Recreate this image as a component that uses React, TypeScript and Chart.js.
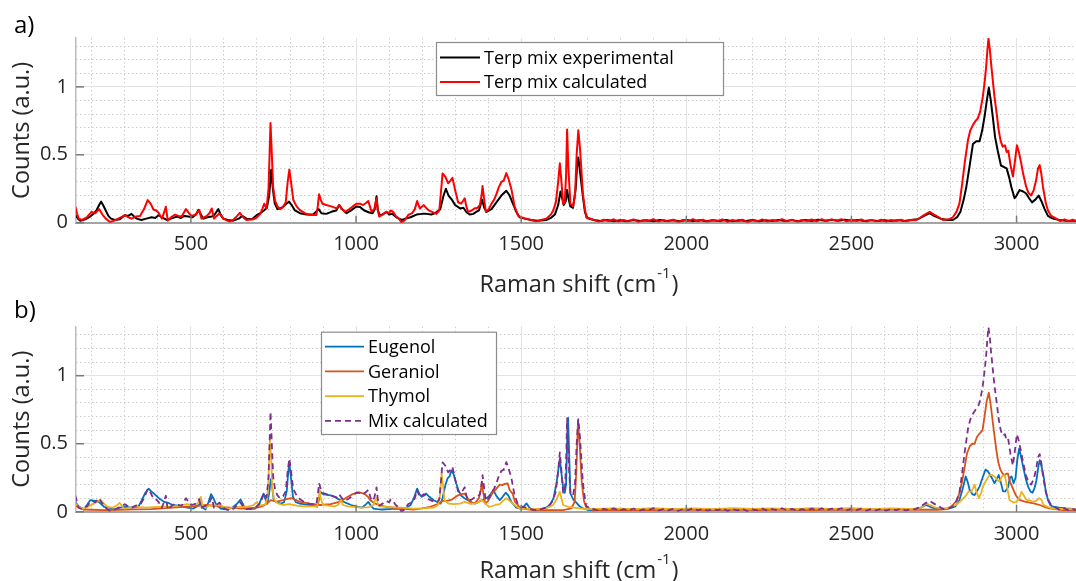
import React, { useEffect, useRef } from "react";
import { Chart, registerables } from "chart.js";

Chart.register(...registerables);

const FONT = '"Open Sans", "Liberation Sans", sans-serif';

// ---------- DATA (Raman shift cm^-1, counts a.u.) ----------
const experimental: [number, number][] = [
  [150,0.055],[158,0.03],[165,0.015],[180,0.025],[195,0.045],[207,0.07],[215,0.095],[222,0.13],[228,0.155],[234,0.13],[242,0.09],[250,0.05],[258,0.03],[270,0.02],[285,0.025],[300,0.055],[310,0.05],[320,0.065],[328,0.045],[336,0.03],[350,0.02],[365,0.03],[381,0.04],[392,0.035],[402,0.055],[412,0.04],[427,0.02],[440,0.03],[457,0.045],[470,0.035],[480,0.05],[492,0.045],[505,0.04],[515,0.06],[523,0.095],[530,0.06],[538,0.03],[550,0.04],[563,0.045],[572,0.06],[583,0.1],[590,0.06],[598,0.03],[612,0.02],[628,0.015],[645,0.03],[655,0.05],[668,0.03],[685,0.025],[699,0.055],[710,0.07],[721,0.09],[730,0.11],[737,0.2],[743,0.39],[748,0.25],[754,0.14],[762,0.1],[775,0.11],[789,0.14],[797,0.155],[805,0.13],[815,0.09],[830,0.07],[850,0.06],[870,0.06],[887,0.1],[895,0.07],[910,0.065],[925,0.08],[940,0.09],[949,0.13],[958,0.1],[971,0.07],[985,0.09],[1001,0.12],[1012,0.115],[1025,0.09],[1040,0.075],[1050,0.07],[1057,0.1],[1062,0.195],[1066,0.09],[1072,0.055],[1080,0.06],[1092,0.08],[1100,0.06],[1110,0.065],[1125,0.035],[1138,0.02],[1150,0.03],[1165,0.04],[1183,0.06],[1200,0.065],[1213,0.065],[1228,0.06],[1243,0.075],[1255,0.1],[1265,0.2],[1272,0.25],[1280,0.2],[1290,0.17],[1300,0.13],[1315,0.105],[1325,0.11],[1335,0.075],[1345,0.06],[1355,0.065],[1364,0.08],[1372,0.09],[1382,0.17],[1388,0.11],[1395,0.08],[1410,0.1],[1425,0.15],[1440,0.2],[1455,0.235],[1465,0.2],[1475,0.14],[1485,0.08],[1495,0.04],[1510,0.03],[1530,0.02],[1550,0.015],[1576,0.02],[1590,0.035],[1602,0.06],[1612,0.13],[1619,0.23],[1624,0.18],[1629,0.13],[1635,0.16],[1639,0.24],[1644,0.17],[1649,0.12],[1657,0.11],[1665,0.25],[1670,0.44],[1673,0.48],[1678,0.38],[1687,0.19],[1693,0.08],[1700,0.035],
  [1720,0.02],[1740,0.012],[1760,0.02],[1780,0.01],[1800,0.018],[1820,0.01],[1840,0.02],[1860,0.012],[1880,0.018],[1900,0.01],[1920,0.02],[1940,0.012],[1960,0.018],[1980,0.01],[2000,0.02],[2020,0.012],[2040,0.019],[2060,0.01],[2080,0.018],[2100,0.012],[2120,0.02],[2140,0.01],[2160,0.018],[2180,0.012],[2200,0.02],[2220,0.01],[2240,0.018],[2260,0.012],[2280,0.02],[2300,0.012],[2320,0.019],[2340,0.011],[2360,0.02],[2380,0.013],[2400,0.021],[2420,0.014],[2440,0.022],[2460,0.015],[2480,0.021],[2500,0.014],[2520,0.02],[2540,0.013],[2560,0.019],[2580,0.012],[2600,0.018],[2620,0.012],[2640,0.019],[2660,0.013],[2680,0.02],[2700,0.025],
  [2720,0.05],[2737,0.07],[2750,0.05],[2770,0.03],[2790,0.02],[2807,0.02],[2820,0.04],[2830,0.08],[2840,0.17],[2848,0.265],[2858,0.42],[2868,0.58],[2878,0.6],[2888,0.6],[2896,0.68],[2903,0.78],[2910,0.9],[2916,0.995],[2922,0.9],[2928,0.78],[2935,0.63],[2943,0.53],[2953,0.42],[2962,0.41],[2970,0.4],[2978,0.33],[2984,0.265],[2994,0.18],[3000,0.2],[3009,0.24],[3020,0.23],[3029,0.215],[3038,0.18],[3047,0.15],[3057,0.17],[3067,0.2],[3075,0.16],[3085,0.1],[3095,0.05],[3110,0.03],[3130,0.02],[3150,0.015],[3180,0.015]
];

const calculated: [number, number][] = [
  [150,0.12],[155,0.07],[160,0.03],[170,0.02],[185,0.04],[199,0.08],[210,0.07],[222,0.1],[232,0.06],[242,0.03],[255,0.005],[268,0.015],[280,0.03],[292,0.045],[300,0.056],[310,0.04],[320,0.03],[333,0.045],[346,0.05],[358,0.1],[369,0.167],[378,0.14],[387,0.095],[395,0.09],[402,0.073],[412,0.03],[418,0.07],[424,0.118],[430,0.015],[440,0.04],[452,0.06],[462,0.05],[472,0.045],[485,0.1],[494,0.07],[502,0.05],[515,0.06],[525,0.093],[532,0.03],[540,0.04],[548,0.05],[556,0.07],[563,0.105],[570,0.03],[578,0.05],[586,0.068],[598,0.03],[610,0.015],[618,0.008],[630,0.025],[640,0.05],[648,0.073],[658,0.04],[668,0.02],[689,0.025],[700,0.04],[710,0.065],[716,0.1],[722,0.14],[729,0.105],[735,0.25],[741,0.735],[745,0.5],[749,0.26],[755,0.16],[762,0.12],[770,0.1],[779,0.115],[787,0.15],[793,0.3],[798,0.39],[803,0.3],[810,0.167],[820,0.12],[830,0.093],[845,0.07],[860,0.057],[880,0.057],[884,0.12],[888,0.21],[893,0.17],[898,0.14],[910,0.13],[925,0.12],[941,0.105],[949,0.13],[957,0.1],[966,0.08],[980,0.1],[990,0.12],[1001,0.14],[1012,0.14],[1021,0.13],[1030,0.145],[1037,0.16],[1042,0.12],[1047,0.08],[1055,0.1],[1062,0.18],[1066,0.09],[1070,0.045],[1080,0.06],[1092,0.08],[1100,0.07],[1105,0.09],[1112,0.08],[1120,0.05],[1130,0.03],[1138,0.0],[1148,0.02],[1158,0.057],[1170,0.07],[1178,0.1],[1185,0.16],[1193,0.105],[1200,0.12],[1205,0.13],[1212,0.11],[1219,0.093],[1230,0.08],[1243,0.065],[1252,0.09],[1258,0.25],[1262,0.363],[1270,0.34],[1279,0.29],[1286,0.31],[1292,0.33],[1300,0.24],[1309,0.15],[1318,0.14],[1324,0.16],[1329,0.18],[1334,0.12],[1339,0.08],[1350,0.09],[1359,0.105],[1368,0.11],[1375,0.13],[1380,0.2],[1383,0.27],[1388,0.17],[1393,0.08],[1402,0.1],[1410,0.14],[1418,0.17],[1425,0.21],[1432,0.26],[1440,0.3],[1447,0.31],[1455,0.365],[1462,0.32],[1471,0.24],[1480,0.12],[1491,0.05],[1500,0.04],[1515,0.03],[1530,0.02],[1545,0.01],[1560,0.02],[1576,0.03],[1590,0.06],[1597,0.09],[1605,0.15],[1612,0.3],[1617,0.437],[1622,0.3],[1627,0.14],[1632,0.15],[1636,0.35],[1639,0.687],[1643,0.4],[1649,0.14],[1657,0.12],[1663,0.2],[1668,0.5],[1673,0.68],[1678,0.55],[1687,0.21],[1693,0.1],[1697,0.04],
  [1720,0.02],[1735,0.008],[1750,0.022],[1765,0.012],[1780,0.025],[1795,0.008],[1810,0.02],[1825,0.01],[1840,0.024],[1855,0.006],[1870,0.018],[1885,0.012],[1900,0.026],[1915,0.008],[1930,0.02],[1945,0.01],[1960,0.022],[1975,0.006],[1990,0.02],[2005,0.012],[2020,0.026],[2035,0.01],[2050,0.022],[2065,0.008],[2080,0.02],[2095,0.012],[2110,0.024],[2125,0.006],[2140,0.02],[2155,0.01],[2170,0.022],[2185,0.004],[2200,0.018],[2215,0.01],[2230,0.024],[2245,0.008],[2260,0.02],[2275,0.012],[2290,0.026],[2305,0.01],[2320,0.022],[2335,0.008],[2350,0.02],[2365,0.012],[2380,0.024],[2395,0.01],[2410,0.026],[2425,0.012],[2440,0.024],[2455,0.014],[2470,0.026],[2485,0.01],[2500,0.022],[2515,0.012],[2530,0.024],[2545,0.008],[2560,0.02],[2575,0.01],[2590,0.022],[2605,0.008],[2620,0.02],[2635,0.012],[2650,0.022],[2665,0.01],[2680,0.02],[2695,0.018],
  [2710,0.04],[2722,0.06],[2737,0.08],[2750,0.06],[2765,0.04],[2777,0.02],[2795,0.025],[2807,0.04],[2818,0.08],[2827,0.14],[2835,0.28],[2843,0.44],[2853,0.61],[2860,0.68],[2868,0.72],[2876,0.75],[2883,0.77],[2890,0.82],[2898,0.93],[2904,1.05],[2908,1.15],[2912,1.28],[2915,1.356],[2919,1.28],[2923,1.17],[2928,1.05],[2933,0.93],[2940,0.8],[2946,0.68],[2952,0.6],[2958,0.56],[2965,0.57],[2970,0.52],[2975,0.53],[2982,0.42],[2989,0.34],[2995,0.45],[3001,0.57],[3007,0.52],[3014,0.44],[3020,0.36],[3029,0.265],[3036,0.22],[3044,0.2],[3052,0.24],[3059,0.31],[3065,0.4],[3070,0.424],[3075,0.36],[3080,0.265],[3088,0.15],[3095,0.09],[3105,0.05],[3120,0.03],[3132,0.012],[3145,0.025],[3158,0.01],[3170,0.022],[3180,0.012]
];

const eugenol: [number, number][] = [
  [150,0.07],[160,0.04],[175,0.017],[185,0.05],[195,0.085],[210,0.08],[221,0.073],[237,0.037],[252,0.03],[268,0.017],[285,0.03],[299,0.037],[320,0.03],[341,0.037],[351,0.085],[362,0.14],[372,0.17],[380,0.15],[388,0.134],[403,0.1],[419,0.073],[432,0.065],[445,0.05],[460,0.045],[476,0.037],[490,0.03],[507,0.024],[518,0.04],[528,0.06],[536,0.03],[544,0.017],[553,0.07],[561,0.13],[568,0.1],[575,0.06],[583,0.04],[590,0.024],[600,0.02],[611,0.017],[625,0.03],[640,0.06],[650,0.09],[657,0.06],[663,0.024],[680,0.02],[694,0.024],[707,0.06],[714,0.1],[720,0.134],[726,0.09],[731,0.06],[737,0.14],[742,0.24],[746,0.18],[751,0.085],[760,0.07],[772,0.06],[782,0.07],[790,0.15],[795,0.3],[798,0.355],[803,0.25],[809,0.11],[818,0.07],[830,0.06],[845,0.055],[861,0.05],[872,0.045],[882,0.037],[887,0.08],[892,0.147],[900,0.13],[912,0.125],[923,0.12],[935,0.11],[945,0.095],[954,0.085],[970,0.065],[985,0.05],[1000,0.04],[1017,0.03],[1028,0.05],[1037,0.073],[1045,0.045],[1053,0.024],[1065,0.02],[1079,0.017],[1100,0.02],[1121,0.024],[1140,0.02],[1152,0.03],[1165,0.05],[1175,0.1],[1185,0.17],[1192,0.13],[1199,0.11],[1205,0.12],[1212,0.134],[1222,0.11],[1235,0.085],[1248,0.07],[1256,0.06],[1262,0.1],[1266,0.147],[1271,0.2],[1277,0.245],[1283,0.26],[1289,0.305],[1295,0.28],[1303,0.21],[1310,0.16],[1318,0.12],[1328,0.1],[1339,0.085],[1350,0.07],[1360,0.06],[1370,0.07],[1380,0.085],[1390,0.095],[1401,0.11],[1408,0.13],[1416,0.16],[1424,0.12],[1435,0.086],[1444,0.11],[1453,0.14],[1461,0.12],[1470,0.074],[1485,0.03],[1495,0.025],[1505,0.03],[1516,0.062],[1525,0.03],[1536,0.013],[1560,0.02],[1575,0.03],[1587,0.05],[1598,0.1],[1607,0.21],[1612,0.3],[1617,0.39],[1622,0.28],[1627,0.18],[1632,0.14],[1636,0.2],[1639,0.5],[1642,0.69],[1645,0.45],[1649,0.135],[1658,0.09],[1667,0.067],[1677,0.04],[1687,0.025],[1700,0.015],[1717,0.01],[1740,0.015],[1800,0.02],[1860,0.014],[1920,0.02],[1980,0.016],[2040,0.022],[2100,0.015],[2160,0.02],[2220,0.016],[2280,0.021],[2340,0.015],[2400,0.02],[2460,0.017],[2520,0.022],[2580,0.016],[2640,0.02],[2690,0.022],[2710,0.03],[2726,0.05],[2740,0.035],[2760,0.02],[2780,0.02],[2797,0.025],[2815,0.04],[2827,0.087],[2837,0.17],[2846,0.26],[2852,0.22],[2858,0.16],[2866,0.13],[2873,0.123],[2880,0.15],[2888,0.185],[2897,0.25],[2906,0.31],[2912,0.3],[2918,0.28],[2925,0.25],[2933,0.21],[2940,0.24],[2946,0.27],[2952,0.22],[2959,0.15],[2966,0.15],[2974,0.18],[2980,0.25],[2985,0.26],[2991,0.21],[2997,0.25],[3002,0.38],[3008,0.465],[3014,0.4],[3020,0.33],[3028,0.24],[3035,0.185],[3042,0.15],[3048,0.14],[3054,0.17],[3060,0.23],[3066,0.33],[3070,0.38],[3075,0.34],[3082,0.26],[3088,0.16],[3095,0.087],[3102,0.05],[3110,0.037],[3130,0.03],[3150,0.025],[3180,0.02]
];

const geraniol: [number, number][] = [
  [150,0.05],[160,0.03],[175,0.017],[200,0.015],[237,0.012],[280,0.015],[330,0.018],[380,0.02],[445,0.03],[500,0.04],[549,0.05],[600,0.035],[653,0.024],[700,0.03],[715,0.04],[730,0.06],[741,0.085],[760,0.075],[778,0.085],[792,0.095],[804,0.1],[815,0.09],[830,0.073],[861,0.06],[892,0.05],[923,0.056],[949,0.073],[962,0.09],[975,0.11],[990,0.13],[1001,0.14],[1015,0.14],[1027,0.13],[1036,0.11],[1043,0.085],[1058,0.06],[1089,0.037],[1130,0.025],[1173,0.017],[1200,0.025],[1225,0.037],[1251,0.06],[1262,0.08],[1275,0.08],[1290,0.09],[1308,0.12],[1320,0.13],[1329,0.134],[1338,0.1],[1349,0.06],[1362,0.07],[1372,0.1],[1378,0.16],[1381,0.22],[1385,0.14],[1391,0.06],[1400,0.08],[1412,0.134],[1425,0.17],[1435,0.2],[1443,0.196],[1450,0.205],[1459,0.208],[1465,0.16],[1474,0.134],[1481,0.074],[1490,0.05],[1497,0.025],[1530,0.015],[1576,0.013],[1627,0.013],[1652,0.025],[1662,0.074],[1667,0.3],[1672,0.67],[1677,0.5],[1683,0.23],[1690,0.08],[1696,0.037],[1717,0.013],[1740,0.012],[1820,0.015],[1900,0.012],[1980,0.016],[2060,0.013],[2140,0.016],[2220,0.012],[2300,0.016],[2380,0.013],[2460,0.017],[2540,0.014],[2620,0.016],[2700,0.015],[2760,0.015],[2790,0.02],[2807,0.05],[2818,0.08],[2827,0.135],[2835,0.22],[2843,0.33],[2850,0.43],[2858,0.48],[2866,0.5],[2873,0.5],[2880,0.55],[2888,0.575],[2897,0.6],[2903,0.7],[2910,0.82],[2916,0.875],[2921,0.8],[2926,0.7],[2932,0.58],[2939,0.45],[2945,0.36],[2951,0.31],[2958,0.28],[2964,0.27],[2969,0.28],[2974,0.28],[2980,0.22],[2989,0.17],[2998,0.12],[3009,0.087],[3025,0.075],[3040,0.067],[3055,0.06],[3070,0.05],[3085,0.035],[3100,0.025],[3140,0.013],[3180,0.01]
];

const thymol: [number, number][] = [
  [150,0.06],[162,0.035],[175,0.024],[190,0.04],[206,0.06],[218,0.08],[227,0.085],[237,0.06],[247,0.037],[262,0.03],[275,0.045],[284,0.066],[292,0.04],[299,0.024],[315,0.03],[331,0.04],[345,0.035],[362,0.03],[390,0.035],[414,0.037],[445,0.04],[470,0.045],[487,0.056],[505,0.05],[520,0.06],[526,0.09],[530,0.11],[535,0.05],[544,0.03],[559,0.05],[575,0.045],[590,0.05],[600,0.035],[611,0.024],[630,0.03],[653,0.037],[675,0.04],[690,0.05],[700,0.073],[707,0.045],[718,0.05],[726,0.056],[731,0.1],[735,0.25],[739,0.525],[743,0.4],[746,0.18],[751,0.1],[757,0.073],[765,0.06],[778,0.05],[798,0.056],[820,0.045],[840,0.04],[860,0.04],[882,0.04],[886,0.09],[890,0.16],[894,0.09],[900,0.05],[915,0.045],[934,0.04],[945,0.05],[951,0.07],[955,0.085],[960,0.05],[975,0.04],[1000,0.035],[1017,0.03],[1040,0.035],[1052,0.05],[1058,0.085],[1062,0.1],[1066,0.06],[1072,0.04],[1100,0.035],[1140,0.03],[1173,0.024],[1200,0.025],[1235,0.03],[1248,0.05],[1254,0.12],[1259,0.28],[1263,0.2],[1268,0.085],[1280,0.06],[1297,0.056],[1315,0.06],[1329,0.073],[1345,0.06],[1360,0.06],[1370,0.07],[1381,0.085],[1395,0.05],[1405,0.037],[1422,0.05],[1435,0.057],[1445,0.08],[1455,0.1],[1465,0.08],[1475,0.06],[1485,0.04],[1495,0.025],[1530,0.02],[1575,0.025],[1597,0.05],[1607,0.09],[1612,0.12],[1617,0.147],[1622,0.1],[1627,0.05],[1642,0.037],[1660,0.03],[1677,0.025],[1700,0.02],[1780,0.025],[1840,0.02],[1900,0.026],[1960,0.02],[2020,0.025],[2080,0.02],[2140,0.026],[2200,0.021],[2260,0.025],[2320,0.02],[2380,0.026],[2440,0.022],[2500,0.026],[2560,0.02],[2620,0.025],[2680,0.022],[2700,0.02],[2715,0.035],[2726,0.062],[2738,0.05],[2755,0.03],[2787,0.025],[2817,0.05],[2835,0.09],[2848,0.123],[2855,0.15],[2863,0.147],[2868,0.17],[2873,0.2],[2878,0.15],[2886,0.1],[2893,0.14],[2898,0.185],[2908,0.23],[2918,0.27],[2926,0.27],[2933,0.26],[2940,0.24],[2948,0.22],[2956,0.26],[2964,0.27],[2970,0.2],[2979,0.085],[2990,0.07],[3000,0.073],[3008,0.1],[3015,0.147],[3022,0.12],[3030,0.087],[3040,0.085],[3050,0.074],[3060,0.08],[3068,0.1],[3075,0.09],[3082,0.05],[3095,0.035],[3110,0.025],[3150,0.02],[3180,0.02]
];

// ---------- AXES ----------
const X_MIN = 152;
const X_MAX = 3180;
const Y_MIN = 0;
const Y_MAX = 1.36;
const X_TICKS = [500, 1000, 1500, 2000, 2500, 3000];
const X_MINOR_TICKS = [200, 300, 400, 500, 600, 700, 800, 900, 1000, 1100, 1200, 1300, 1400, 1500, 1600, 1700, 1800, 1900, 2000, 2100, 2200, 2300, 2400, 2500, 2600, 2700, 2800, 2900, 3000, 3100];
const Y_TICKS = [0, 0.5, 1];
const Y_MINOR_TICKS = [0.1, 0.2, 0.3, 0.4, 0.5, 0.6, 0.7, 0.8, 0.9, 1, 1.1, 1.2, 1.3];

const TOP_LEGEND = ["Terp mix experimental", "Terp mix calculated"];
const BOTTOM_LEGEND = ["Eugenol", "Geraniol", "Thymol", "Mix calculated"];
const X_TITLE_MAIN = "Raman shift (cm";
const X_TITLE_SUP = "-1";
const Y_TITLE = "Counts (a.u.)";

const pts = (arr: [number, number][]) => arr.map(([x, y]) => ({ x, y }));
const setTicks = (vals: number[]) => (s: any) => {
  s.ticks = vals.map((v) => ({ value: v }));
};

type Decor = {
  label: string;
  labelBaseline: number;
  legend: { x: number; y: number; w: number; h: number; row0: number; rowH: number; lx0: number; lx1: number; tx: number };
  titleBaseline: number;
  titleCenterX: number;
  yTitleX: number;
};

function decorPlugin(d: Decor) {
  return {
    id: "decor",
    afterDatasetsDraw(chart: any) {
      const ctx = chart.ctx as CanvasRenderingContext2D;
      const a = chart.chartArea;
      const xs = chart.scales.x;
      const ys = chart.scales.y;
      ctx.save();
      ctx.strokeStyle = "#7a7a7a";
      ctx.lineWidth = 1.5;
      xs.ticks.forEach((t: any) => {
        const px = xs.getPixelForValue(t.value);
        ctx.beginPath();
        ctx.moveTo(px, a.bottom);
        ctx.lineTo(px, a.bottom - 7);
        ctx.stroke();
      });
      ys.ticks.forEach((t: any) => {
        const py = ys.getPixelForValue(t.value);
        ctx.beginPath();
        ctx.moveTo(a.left, py);
        ctx.lineTo(a.left + 8, py);
        ctx.stroke();
      });
      ctx.restore();
    },
    afterDraw(chart: any) {
      const ctx = chart.ctx as CanvasRenderingContext2D;
      const a = chart.chartArea;
      ctx.save();
      ctx.fillStyle = "#000";
      ctx.font = `24px ${FONT}`;
      ctx.textAlign = "left";
      ctx.textBaseline = "alphabetic";
      ctx.fillText(d.label, 14, d.labelBaseline);

      ctx.fillStyle = "#262626";
      ctx.font = `23.5px ${FONT}`;
      const w1 = ctx.measureText(X_TITLE_MAIN).width;
      const w3 = ctx.measureText(")").width;
      ctx.font = `15px ${FONT}`;
      const w2 = ctx.measureText(X_TITLE_SUP).width;
      let x = d.titleCenterX - (w1 + w2 + w3) / 2;
      ctx.font = `23.5px ${FONT}`;
      ctx.fillText(X_TITLE_MAIN, x, d.titleBaseline);
      x += w1;
      ctx.font = `15px ${FONT}`;
      ctx.fillText(X_TITLE_SUP, x + 1, d.titleBaseline - 13.5);
      x += w2 + 2;
      ctx.font = `23.5px ${FONT}`;
      ctx.fillText(")", x, d.titleBaseline);

      ctx.save();
      ctx.translate(d.yTitleX, (a.top + a.bottom) / 2);
      ctx.rotate(-Math.PI / 2);
      ctx.textAlign = "center";
      ctx.fillText(Y_TITLE, 0, 0);
      ctx.restore();

      const L = d.legend;
      ctx.fillStyle = "#ffffff";
      ctx.fillRect(L.x, L.y, L.w, L.h);
      ctx.strokeStyle = "#8c8c8c";
      ctx.lineWidth = 1.2;
      ctx.strokeRect(L.x + 0.5, L.y + 0.5, L.w, L.h);
      chart.data.datasets.forEach((ds: any, i: number) => {
        const cy = L.row0 + i * L.rowH;
        ctx.strokeStyle = ds.borderColor;
        ctx.lineWidth = ds.borderWidth;
        ctx.setLineDash(ds.borderDash || []);
        ctx.beginPath();
        ctx.moveTo(L.lx0, cy);
        ctx.lineTo(L.lx1, cy);
        ctx.stroke();
        ctx.setLineDash([]);
        ctx.fillStyle = "#000";
        ctx.font = `18px ${FONT}`;
        ctx.textAlign = "left";
        ctx.textBaseline = "middle";
        ctx.fillText(ds.label, L.tx, cy + 1);
      });
      ctx.restore();
    },
  };
}

function buildConfig(datasets: any[], padTop: number, axisH: number, decor: Decor): any {
  const tickFont = { family: FONT, size: 20 };
  return {
    type: "line",
    data: { datasets },
    options: {
      animation: false,
      responsive: false,
      maintainAspectRatio: false,
      devicePixelRatio: 1,
      events: [],
      elements: { point: { radius: 0 }, line: { tension: 0, borderJoinStyle: "round", borderCapStyle: "butt" } },
      layout: { padding: { top: padTop, left: 0, right: 0, bottom: 0 } },
      plugins: { legend: { display: false }, tooltip: { enabled: false }, title: { display: false } },
      scales: {
        xMinor: {
          type: "linear",
          position: "bottom",
          min: X_MIN,
          max: X_MAX,
          afterBuildTicks: setTicks(X_MINOR_TICKS),
          afterFit: (s: any) => { s.height = 0; },
          ticks: { display: false },
          grid: { color: "#cdcdcd", lineWidth: 1, drawTicks: false },
          border: { display: false, dash: [1.5, 2.5] },
        },
        yMinor: {
          type: "linear",
          position: "left",
          min: Y_MIN,
          max: Y_MAX,
          afterBuildTicks: setTicks(Y_MINOR_TICKS),
          afterFit: (s: any) => { s.width = 0; },
          ticks: { display: false },
          grid: { color: "#cdcdcd", lineWidth: 1, drawTicks: false },
          border: { display: false, dash: [1.5, 2.5] },
        },
        x: {
          type: "linear",
          position: "bottom",
          min: X_MIN,
          max: X_MAX,
          afterBuildTicks: setTicks(X_TICKS),
          afterFit: (s: any) => { s.height = axisH; },
          ticks: {
            autoSkip: false,
            maxRotation: 0,
            padding: 10,
            color: "#262626",
            font: tickFont,
            callback: (v: any) => String(v),
          },
          grid: { color: "#e3e3e3", lineWidth: 1, drawTicks: false },
          border: { color: "#a4a4a4", width: 2 },
        },
        y: {
          type: "linear",
          position: "left",
          min: Y_MIN,
          max: Y_MAX,
          afterBuildTicks: setTicks(Y_TICKS),
          afterFit: (s: any) => { s.width = 76; },
          ticks: {
            autoSkip: false,
            padding: 8,
            color: "#262626",
            font: tickFont,
            callback: (v: any) => String(v),
          },
          grid: { color: "#e3e3e3", lineWidth: 1, drawTicks: false },
          border: { color: "#bcbcbc", width: 1.5 },
        },
      },
    },
    plugins: [decorPlugin(decor)],
  };
}

export default function App() {
  const topRef = useRef<HTMLCanvasElement>(null);
  const botRef = useRef<HTMLCanvasElement>(null);

  useEffect(() => {
    Chart.defaults.font.family = FONT;
    const topDatasets = [
      { label: TOP_LEGEND[0], data: pts(experimental), borderColor: "#000000", borderWidth: 2, order: 1, xAxisID: "x", yAxisID: "y" },
      { label: TOP_LEGEND[1], data: pts(calculated), borderColor: "#ff0000", borderWidth: 2, order: 0, xAxisID: "x", yAxisID: "y" },
    ];
    const botDatasets = [
      { label: BOTTOM_LEGEND[0], data: pts(eugenol), borderColor: "#0072BD", borderWidth: 1.8, order: 3, xAxisID: "x", yAxisID: "y" },
      { label: BOTTOM_LEGEND[1], data: pts(geraniol), borderColor: "#D95319", borderWidth: 1.8, order: 2, xAxisID: "x", yAxisID: "y" },
      { label: BOTTOM_LEGEND[2], data: pts(thymol), borderColor: "#EDB120", borderWidth: 1.8, order: 1, xAxisID: "x", yAxisID: "y" },
      { label: BOTTOM_LEGEND[3], data: pts(calculated), borderColor: "#7E2F8E", borderWidth: 1.8, borderDash: [6, 4], order: 0, xAxisID: "x", yAxisID: "y" },
    ];
    const c1 = new Chart(
      topRef.current as HTMLCanvasElement,
      buildConfig(topDatasets, 38, 300 - 222.7, {
        label: "a)",
        labelBaseline: 33,
        legend: { x: 436, y: 42, w: 287, h: 53, row0: 57.5, rowH: 24.4, lx0: 440, lx1: 480, tx: 484 },
        titleBaseline: 291.5,
        titleCenterX: 578,
        yTitleX: 29,
      })
    );
    const c2 = new Chart(
      botRef.current as HTMLCanvasElement,
      buildConfig(botDatasets, 36.7, 291 - 221.8, {
        label: "b)",
        labelBaseline: 28,
        legend: { x: 321, y: 41.7, w: 175, h: 102.3, row0: 56.7, rowH: 24.7, lx0: 325, lx1: 364, tx: 368 },
        titleBaseline: 287.5,
        titleCenterX: 578,
        yTitleX: 29,
      })
    );
    return () => {
      c1.destroy();
      c2.destroy();
    };
  }, []);

  return (
    <div style={{ position: "fixed", left: 0, top: 0, width: 1076, height: 581, background: "#ffffff", overflow: "hidden" }}>
      <canvas ref={topRef} width={1076} height={300} style={{ position: "absolute", left: 0, top: 0, width: 1076, height: 300 }} />
      <canvas ref={botRef} width={1076} height={291} style={{ position: "absolute", left: 0, top: 290, width: 1076, height: 291 }} />
    </div>
  );
}
